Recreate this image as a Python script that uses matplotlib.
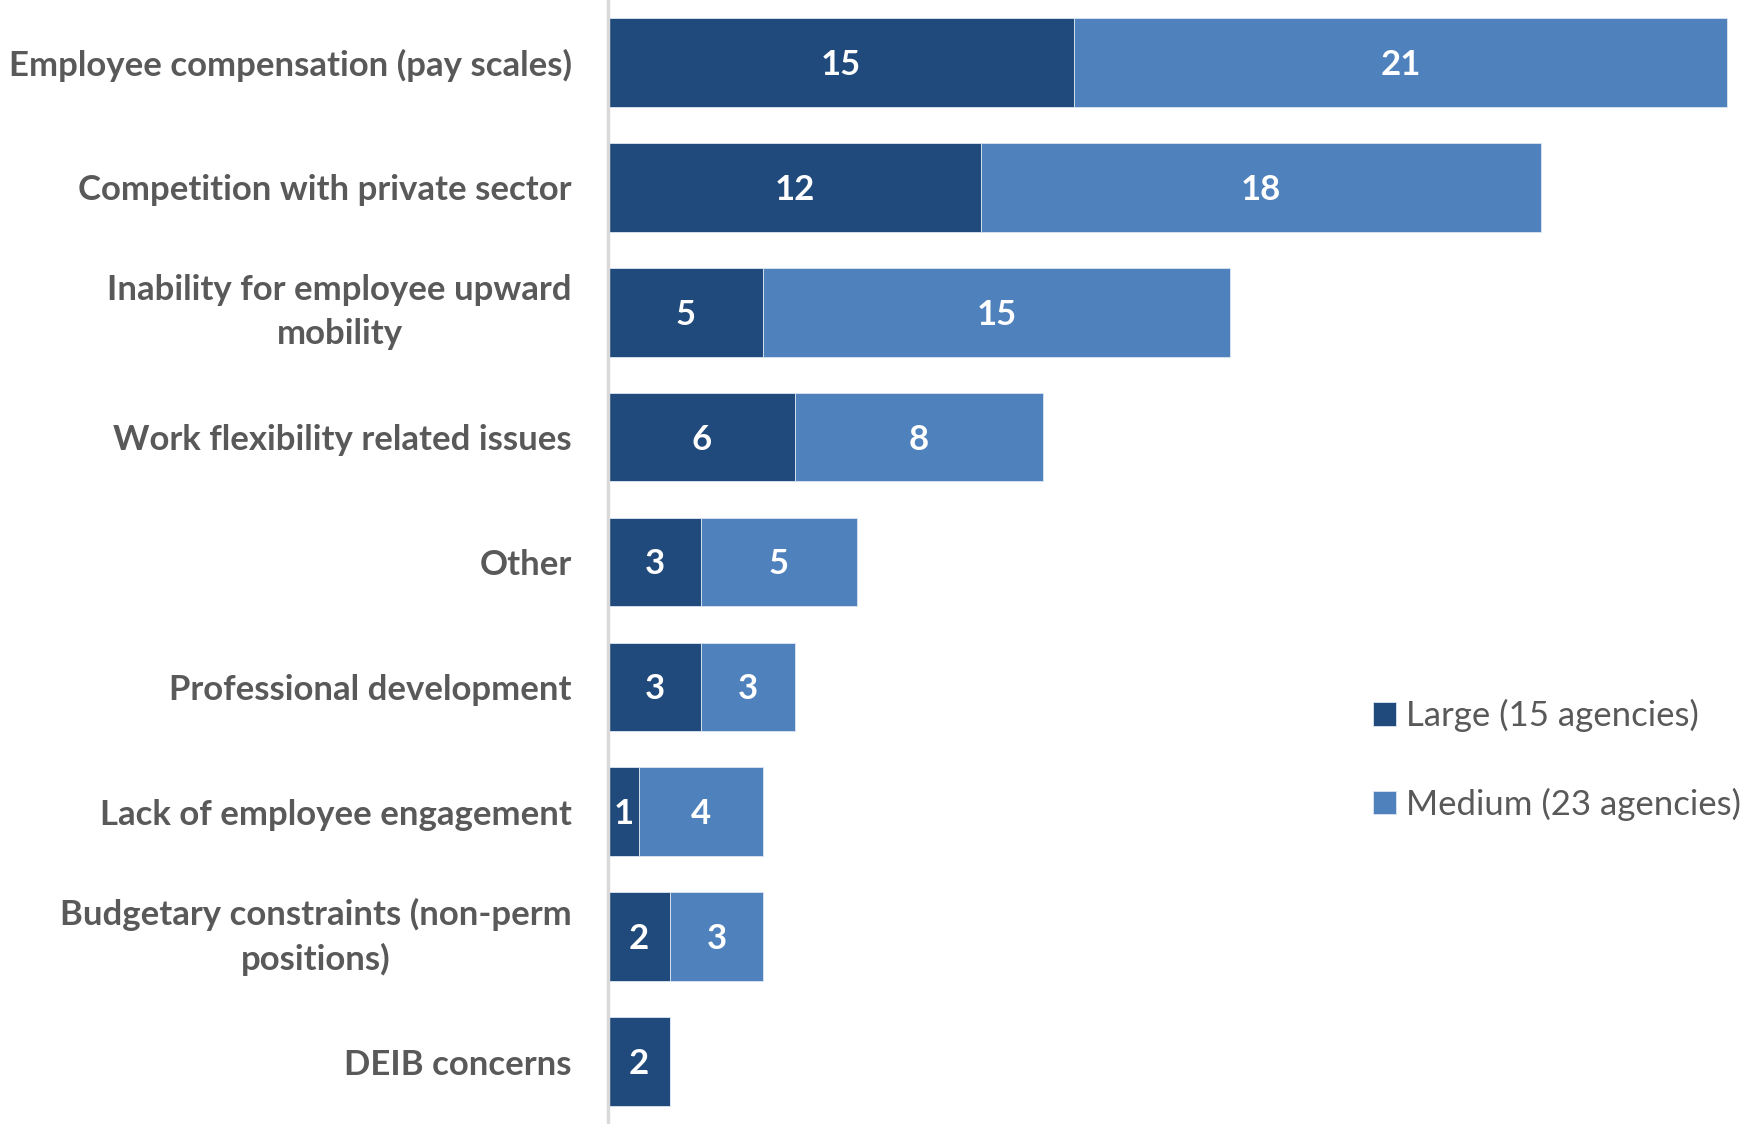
import matplotlib.pyplot as plt
import numpy as np

plt.rcParams['font.family'] = ['Lato', 'DejaVu Sans']

categories = ['Employee compensation (pay scales)',
              'Competition with private sector',
              'Inability for employee upward\nmobility',
              'Work flexibility related issues',
              'Other',
              'Professional development',
              'Lack of employee engagement',
              'Budgetary constraints (non-perm\npositions)',
              'DEIB concerns']
large = [15, 12, 5, 6, 3, 3, 1, 2, 2]
medium = [21, 18, 15, 8, 5, 3, 4, 3, 0]
series_names = ['Large (15 agencies)', 'Medium (23 agencies)']

dark = '#214a7c'
light = '#4f81bd'
grey = '#595959'

fig = plt.figure(figsize=(17.43, 11.24), dpi=100)
ax = fig.add_axes([608 / 1743, 0, 1 - 608 / 1743, 1])

y = np.arange(len(categories))
h = 0.71
b1 = ax.barh(y, large, height=h, color=dark, edgecolor='#dce6f2', linewidth=0.6,
             label=series_names[0])
b2 = ax.barh(y, medium, left=large, height=h, color=light, edgecolor='#dce6f2',
             linewidth=0.6, label=series_names[1])

for bars, vals, starts in [(b1, large, [0] * len(large)), (b2, medium, large)]:
    for v, s, yy in zip(vals, starts, y):
        if v == 0:
            continue
        ax.text(s + v / 2, yy + 0.02, str(v), ha='center', va='center',
                color='white', fontsize=25, fontweight='bold')

ax.set_xlim(0, 36.5)
ax.set_ylim(len(categories) - 0.5, -0.5)
ax.set_yticks(y)
ax.set_yticklabels(categories, fontsize=25, fontweight='bold', color=grey,
                   multialignment='center', linespacing=1.45)
# two-line labels sit centred on the bar
for lbl in ax.get_yticklabels():
    if '\n' in lbl.get_text():
        lbl.set_va('center')
ax.tick_params(axis='y', length=0, pad=26)
ax.set_xticks([])
for side in ['top', 'right', 'bottom']:
    ax.spines[side].set_visible(False)
ax.spines['left'].set_color('#d9d9d9')
ax.spines['left'].set_linewidth(2.5)

leg = fig.legend(handles=[b1, b2], loc='center left',
                 bbox_to_anchor=(1342 / 1743, 1 - 760 / 1124), frameon=False,
                 fontsize=25, handlelength=0.65, handleheight=0.65,
                 handletextpad=0.3, labelspacing=1.6)
for t in leg.get_texts():
    t.set_color(grey)

fig.savefig('out.png')
